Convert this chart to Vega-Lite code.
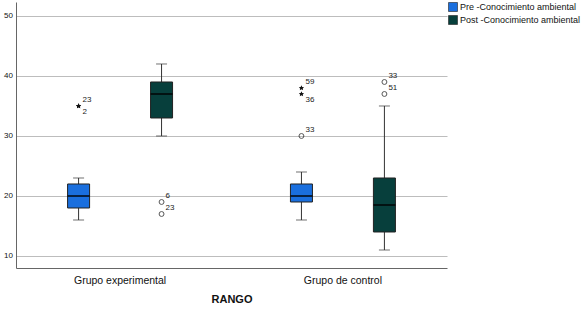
{
  "$schema": "https://vega.github.io/schema/vega-lite/v6.json",
  "width": 431,
  "height": 266,
  "padding": {"left": 3, "top": 2, "right": 0, "bottom": 0},
  "background": "white",
  "config": {
    "view": {"stroke": null},
    "font": "Liberation Sans"
  },
  "datasets": {
    "cajas": [
      {"grupo": "Grupo experimental", "serie": "Pre -Conocimiento ambiental", "min": 16, "q1": 18, "mediana": 20, "q3": 22, "max": 23},
      {"grupo": "Grupo experimental", "serie": "Post -Conocimiento ambiental", "min": 30, "q1": 33, "mediana": 37, "q3": 39, "max": 42},
      {"grupo": "Grupo de control", "serie": "Pre -Conocimiento ambiental", "min": 16, "q1": 19, "mediana": 20, "q3": 22, "max": 24},
      {"grupo": "Grupo de control", "serie": "Post -Conocimiento ambiental", "min": 11, "q1": 14, "mediana": 18.5, "q3": 23, "max": 35}
    ],
    "atipicos": [
      {"grupo": "Grupo experimental", "serie": "Pre -Conocimiento ambiental", "valor": 35, "caso": "23", "tipo": "extremo"},
      {"grupo": "Grupo experimental", "serie": "Pre -Conocimiento ambiental", "valor": 35, "caso": "2", "tipo": "extremo"},
      {"grupo": "Grupo experimental", "serie": "Post -Conocimiento ambiental", "valor": 19, "caso": "6", "tipo": "atipico"},
      {"grupo": "Grupo experimental", "serie": "Post -Conocimiento ambiental", "valor": 17, "caso": "23", "tipo": "atipico"},
      {"grupo": "Grupo de control", "serie": "Pre -Conocimiento ambiental", "valor": 38, "caso": "59", "tipo": "extremo"},
      {"grupo": "Grupo de control", "serie": "Pre -Conocimiento ambiental", "valor": 37, "caso": "36", "tipo": "extremo"},
      {"grupo": "Grupo de control", "serie": "Pre -Conocimiento ambiental", "valor": 30, "caso": "33", "tipo": "atipico"},
      {"grupo": "Grupo de control", "serie": "Post -Conocimiento ambiental", "valor": 39, "caso": "33", "tipo": "atipico"},
      {"grupo": "Grupo de control", "serie": "Post -Conocimiento ambiental", "valor": 37, "caso": "51", "tipo": "atipico"}
    ]
  },
  "encoding": {
    "x": {
      "field": "grupo",
      "type": "nominal",
      "sort": ["Grupo experimental", "Grupo de control"],
      "scale": {"paddingInner": 0.3, "paddingOuter": 0.117},
      "axis": {
        "title": "RANGO",
        "titleFontSize": 11,
        "titleFontWeight": "bold",
        "titleColor": "#111",
        "titlePadding": 8,
        "labelAngle": 0,
        "labelFontSize": 10.5,
        "labelColor": "#111",
        "labelPadding": 7,
        "ticks": false,
        "tickSize": 0,
        "grid": false,
        "domainColor": "#666",
        "domainWidth": 1
      }
    },
    "xOffset": {
      "field": "serie",
      "type": "nominal",
      "sort": ["Pre -Conocimiento ambiental", "Post -Conocimiento ambiental"],
      "scale": {"paddingInner": 0.5, "paddingOuter": 0.19}
    }
  },
  "layer": [
    {
      "data": {"name": "cajas"},
      "mark": {"type": "rule", "color": "#333", "strokeWidth": 1},
      "encoding": {
        "y": {
          "field": "min",
          "type": "quantitative",
          "scale": {"domain": [8, 52.33], "nice": false, "zero": false},
          "axis": {
            "title": null,
            "values": [10, 20, 30, 40, 50],
            "grid": true,
            "gridColor": "#bdbdbd",
            "gridWidth": 1.2,
            "ticks": false,
            "tickSize": 0,
            "labelFontSize": 8,
            "labelColor": "#111",
            "labelPadding": 3.5,
            "domainColor": "#666",
            "domainWidth": 1
          }
        },
        "y2": {"field": "max"}
      }
    },
    {
      "data": {"name": "cajas"},
      "mark": {"type": "tick", "color": "#333", "size": 11, "thickness": 1},
      "encoding": {"y": {"field": "min", "type": "quantitative"}}
    },
    {
      "data": {"name": "cajas"},
      "mark": {"type": "tick", "color": "#333", "size": 11, "thickness": 1},
      "encoding": {"y": {"field": "max", "type": "quantitative"}}
    },
    {
      "data": {"name": "cajas"},
      "mark": {"type": "bar", "width": 22, "stroke": "#222", "strokeWidth": 1},
      "encoding": {
        "y": {"field": "q1", "type": "quantitative"},
        "y2": {"field": "q3"},
        "color": {
          "field": "serie",
          "type": "nominal",
          "sort": ["Pre -Conocimiento ambiental", "Post -Conocimiento ambiental"],
          "scale": {"range": ["#1a6fde", "#073f3c"]},
          "legend": {
            "title": null,
            "orient": "right",
            "offset": 1,
            "padding": 0,
            "symbolType": "square",
            "symbolSize": 81,
            "symbolStrokeColor": "#222",
            "symbolStrokeWidth": 0.6,
            "symbolOpacity": 1,
            "labelFontSize": 9,
            "labelColor": "#111",
            "labelOffset": 2,
            "rowPadding": 1,
            "labelLimit": 200
          }
        }
      }
    },
    {
      "data": {"name": "cajas"},
      "mark": {"type": "tick", "color": "#000", "size": 22, "thickness": 2},
      "encoding": {"y": {"field": "mediana", "type": "quantitative"}}
    },
    {
      "data": {"name": "atipicos"},
      "transform": [{"filter": "datum.tipo == 'atipico'"}],
      "mark": {"type": "point", "shape": "circle", "filled": false, "stroke": "#111", "strokeWidth": 1, "size": 24},
      "encoding": {"y": {"field": "valor", "type": "quantitative"}}
    },
    {
      "data": {"name": "atipicos"},
      "transform": [{"filter": "datum.tipo == 'extremo'"}],
      "mark": {"type": "point", "shape": "M0,-1L0.29,-0.4L0.95,-0.31L0.48,0.15L0.59,0.81L0,0.5L-0.59,0.81L-0.48,0.15L-0.95,-0.31L-0.29,-0.4Z", "filled": true, "color": "#111", "opacity": 1, "size": 30},
      "encoding": {"y": {"field": "valor", "type": "quantitative"}}
    },
    {
      "data": {"name": "atipicos"},
      "transform": [{"filter": "datum.caso != '2' && datum.caso != '36'"}],
      "mark": {"type": "text", "align": "left", "baseline": "middle", "dx": 4, "dy": -6, "fontSize": 8, "color": "#222"},
      "encoding": {"y": {"field": "valor", "type": "quantitative"}, "text": {"field": "caso"}}
    },
    {
      "data": {"name": "atipicos"},
      "transform": [{"filter": "datum.caso == '2' || datum.caso == '36'"}],
      "mark": {"type": "text", "align": "left", "baseline": "middle", "dx": 4, "dy": 6, "fontSize": 8, "color": "#222"},
      "encoding": {"y": {"field": "valor", "type": "quantitative"}, "text": {"field": "caso"}}
    }
  ]
}
